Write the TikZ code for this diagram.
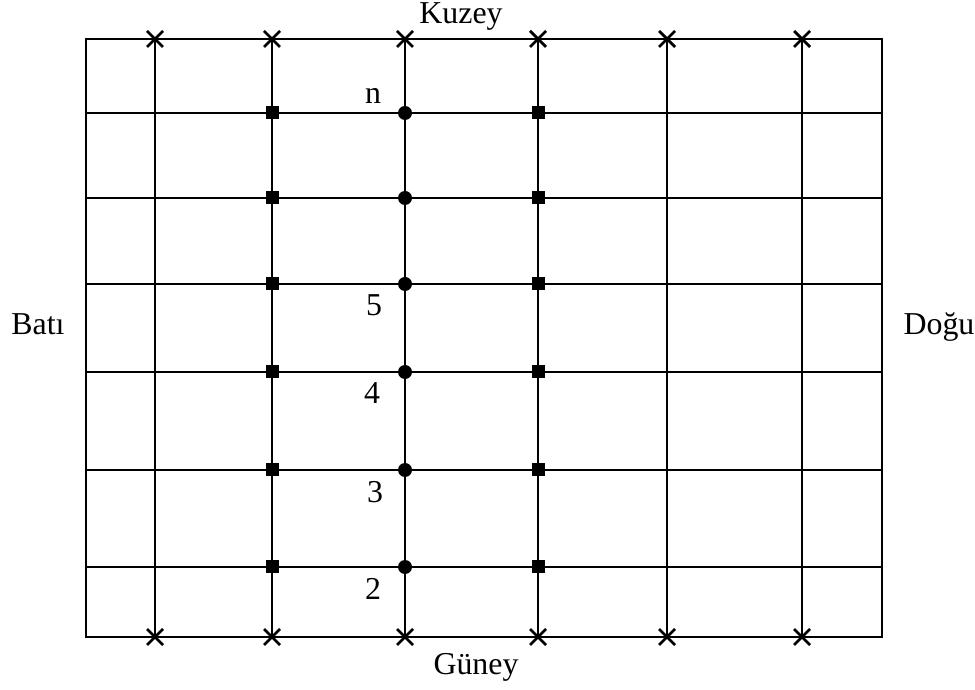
\documentclass[tikz,border=0pt]{standalone}
\usepackage{fontspec}
\setmainfont{Liberation Serif}
\begin{document}
\begin{tikzpicture}[x=0.015cm,y=-0.015cm,
	gridline/.style={line width=0.9pt},
	crossmark/.style={line width=1.2pt},
	lbl/.style={font=\fontsize{13.6}{15}\selectfont,inner sep=0pt}]
	\useasboundingbox (0,0) rectangle (975,690);
	\draw[gridline] (86,39) rectangle (882,637);
	\foreach \Y in {113,198,284,372,470,567} {
		\draw[gridline] (86,\Y) -- (882,\Y);
		\fill (272,\Y) ++(-6.5,-6.5) rectangle ++(13,13);
		\fill (538,\Y) ++(-6.5,-6.5) rectangle ++(13,13);
		\fill (405,\Y) circle (7);}
	\foreach \X in {155,272,405,538,667,802} {
		\draw[gridline] (\X,39) -- (\X,637);
		\draw[crossmark] (\X-8,31) -- (\X+8,47) (\X-8,47) -- (\X+8,31);
		\draw[crossmark] (\X-8,629) -- (\X+8,645) (\X-8,645) -- (\X+8,629);}

	\node[lbl] (kuzey) at (461,17) {Kuzey};
	\node[lbl] (guney) at (476,667) {Güney};
	\node[lbl] (bati) at (38,324) {Batı};
	\node[lbl] (dogu) at (939,327) {Doğu};
	\node[lbl] (rown) at (373,96) {n};
	\node[lbl] (row5) at (374,305) {5};
	\node[lbl] (row4) at (372,393) {4};
	\node[lbl] (row3) at (375,492) {3};
	\node[lbl] (row2) at (373,589) {2};
\end{tikzpicture}
\end{document}
